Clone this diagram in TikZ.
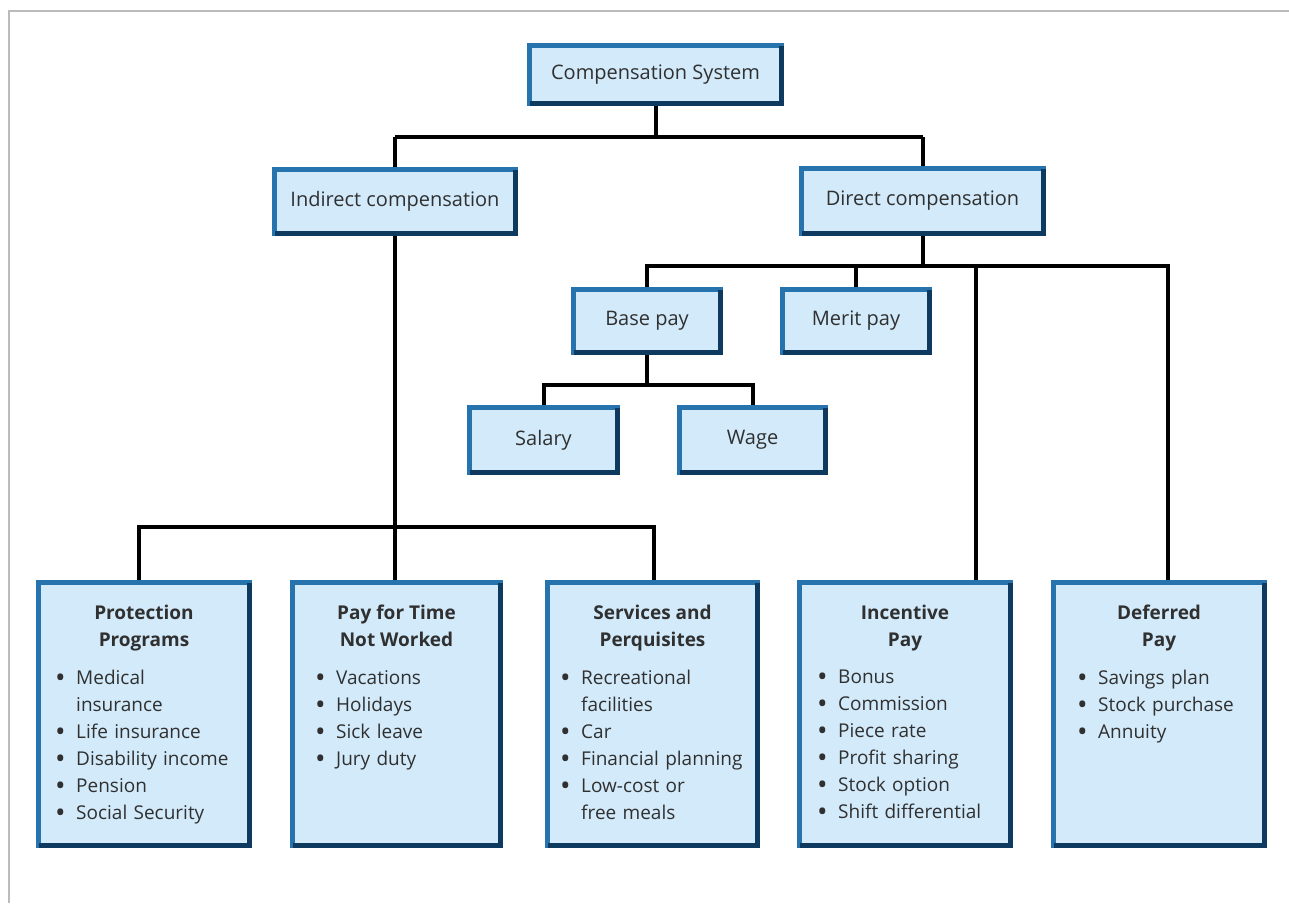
\documentclass[tikz,border=0pt]{standalone}
\usepackage{fontspec}
\setmainfont{Open Sans}
\usetikzlibrary{backgrounds}
\definecolor{boxfill}{HTML}{D2EAFA}
\definecolor{boxblue}{HTML}{2673AD}
\definecolor{boxdark}{HTML}{0E3A60}
\definecolor{txt}{HTML}{303030}
\definecolor{framegray}{HTML}{BBBBBB}
\newcommand\bitem[1]{\hangindent=21pt\hangafter=1\noindent\makebox[21pt][l]{\fontsize{28}{27}\selectfont\raisebox{-3pt}{\textbullet}}#1\par}
\begin{document}
\begin{tikzpicture}[x=1pt,y=-1pt,
  box/.style={rectangle, fill=boxfill, draw=boxblue, line width=5pt, outer sep=0pt, inner sep=0pt, text=txt, font=\fontsize{20}{24}\selectfont},
  conn/.style={draw=black, line width=4pt, line join=miter},
  ttl/.style={anchor=north, align=center, inner sep=0pt, text=txt, font=\fontsize{19}{27}\selectfont\bfseries},
  lst/.style={anchor=north west, inner sep=0pt, text=txt, text width=210pt, font=\fontsize{19}{27}\selectfont},
  edge/.style={draw=boxdark, line width=5pt},
  frameline/.style={draw=framegray, line width=2pt}
]
\useasboundingbox (0,0) rectangle (1289,903);
\draw[frameline] (9,903) -- (9,11) -- (1289,11);

% bus levels
\coordinate (b1) at (0,137);
\coordinate (b2) at (0,266);
\coordinate (b3) at (0,527);
\coordinate (b4) at (0,385);

% upper boxes
\node[box, minimum width=252pt, minimum height=58pt] (cs) at (655.5,74.5) {Compensation System};
\node[box, minimum width=241pt, minimum height=64pt] (ind) at (395,201.5) {Indirect compensation};
\node[box, minimum width=242pt, minimum height=65pt] (dir) at (922.5,201) {Direct compensation};
\node[box, minimum width=147pt, minimum height=63pt] (base) at (647,321) {Base pay};
\node[box, minimum width=147pt, minimum height=63pt] (merit) at (856,321) {Merit pay};
\node[box, minimum width=148pt, minimum height=65pt] (sal) at (543.5,440) {Salary};
\node[box, minimum width=146pt, minimum height=65pt] (wage) at (752.5,440) {Wage};

% lower boxes
\node[box, minimum width=211pt, minimum height=263pt] (prot) at (144,714) {};
\node[box, minimum width=208pt, minimum height=263pt] (pay) at (396.5,714) {};
\node[box, minimum width=210pt, minimum height=263pt] (serv) at (652.5,714) {};
\node[box, minimum width=211pt, minimum height=263pt] (inc) at (905,714) {};
\node[box, minimum width=211pt, minimum height=263pt] (def) at (1159,714) {};

\foreach \n in {cs,ind,dir,base,merit,sal,wage,prot,pay,serv,inc,def}
  \draw[edge] (\n.north east) -- (\n.south east) -- (\n.south west);

% titles
\node[ttl] (prot-t) at (144,605) {Protection\\Programs};
\node[ttl] (pay-t) at (396.5,605) {Pay for Time\\Not Worked};
\node[ttl] (serv-t) at (652.5,605) {Services and\\Perquisites};
\node[ttl] (inc-t) at (905,605) {Incentive\\Pay};
\node[ttl] (def-t) at (1159,605) {Deferred\\Pay};

% lists
\node[lst] (prot-l) at (55,670) {\bitem{Medical\newline insurance}\bitem{Life insurance}\bitem{Disability income}\bitem{Pension}\bitem{Social Security}};
\node[lst] (pay-l) at (315,670) {\bitem{Vacations}\bitem{Holidays}\bitem{Sick leave}\bitem{Jury duty}};
\node[lst] (serv-l) at (560,670) {\bitem{Recreational\newline facilities}\bitem{Car}\bitem{Financial planning}\bitem{Low-cost or\newline free meals}};
\node[lst] (inc-l) at (817,670) {\bitem{Bonus}\bitem{Commission}\bitem{Piece rate}\bitem{Profit sharing}\bitem{Stock option}\bitem{Shift differential}};
\node[lst] (def-l) at (1077,670) {\bitem{Savings plan}\bitem{Stock purchase}\bitem{Annuity}};

% connectors
\begin{scope}[on background layer]
\draw[conn] (cs.south) -- (cs.south |- b1);
\draw[conn] (ind.north |- b1) -- (dir.north |- b1);
\draw[conn] (ind.north |- b1) -- (ind.north);
\draw[conn] (dir.north |- b1) -- (dir.north);

\draw[conn] (ind.south) -- (ind.south |- pay.north);
\draw[conn] ([xshift=-5pt]prot.north) -- ([xshift=-5pt]prot.north |- b3) -- ([xshift=1pt]serv.north |- b3) -- ([xshift=1pt]serv.north);

\draw[conn] (dir.south) -- (dir.south |- b2);
\draw[conn] (base.north) -- (base.north |- b2) -- ([xshift=9pt]def.north |- b2) -- ([xshift=9pt]def.north);
\draw[conn] (merit.north |- b2) -- (merit.north);
\draw[conn] ([xshift=71pt]inc.north |- b2) -- ([xshift=71pt]inc.north);

\draw[conn] (base.south) -- (base.south |- b4);
\draw[conn] (sal.north) -- (sal.north |- b4) -- (wage.north |- b4) -- (wage.north);
\end{scope}
\end{tikzpicture}
\end{document}
